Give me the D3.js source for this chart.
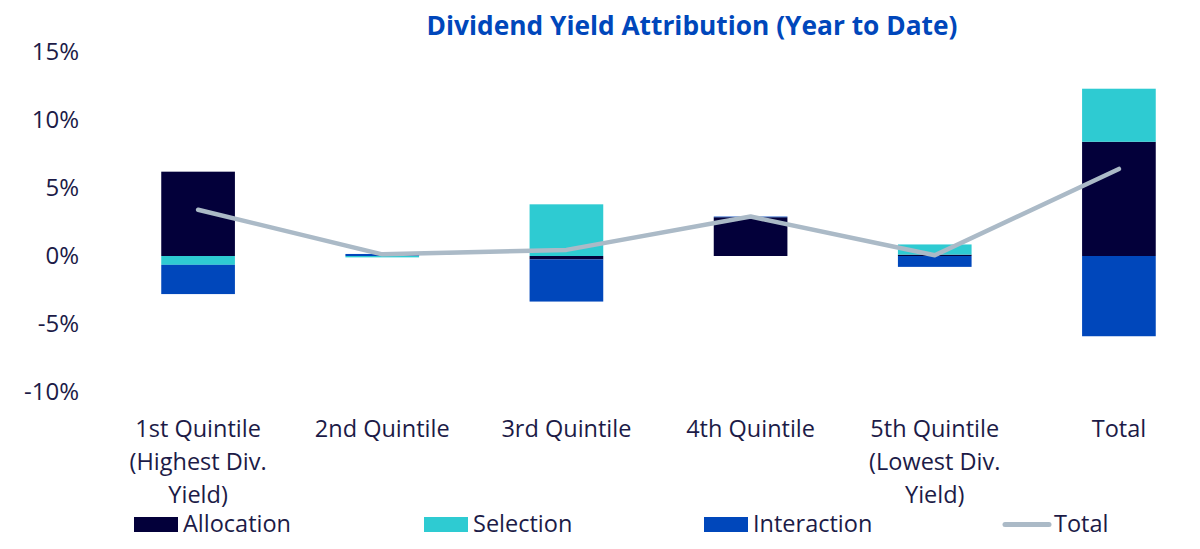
<!DOCTYPE html>
<html>
<head>
<meta charset="utf-8">
<script src="https://cdn.jsdelivr.net/npm/d3@7"></script>
<style>
  body { margin: 0; background: #fff; }
  text { font-family: "Open Sans", sans-serif; }
</style>
</head>
<body>
<script>
// values, in percent
var categories = [
    ["1st Quintile", "(Highest Div.", "Yield)"],
    ["2nd Quintile"],
    ["3rd Quintile"],
    ["4th Quintile"],
    ["5th Quintile", "(Lowest Div.", "Yield)"],
    ["Total"]
];
var allocation = [6.2, 0.0, -0.25, 2.85, 0.1, 8.4];
var selection = [-0.65, -0.1, 3.8, 0.0, 0.75, 3.9];
var interaction = [-2.15, 0.15, -3.1, 0.05, -0.8, -5.9];
var total = [3.4, 0.12, 0.45, 2.9, 0.05, 6.4];
var yTicks = [-10, -5, 0, 5, 10, 15];
var seriesNames = ["Allocation", "Selection", "Interaction"];
var colors = ["#03003a", "#2ecbd2", "#0047bb"];
var lineColor = "#abbac7";
var textColor = "#1c1b47";

var width = 1200, height = 549;

var svg = d3.select("body")
    .append("svg")
    .attr("width", width)
    .attr("height", height);

var rows = categories.map(function (c, i) {
    return { key: i, Allocation: allocation[i], Selection: selection[i], Interaction: interaction[i] };
});

var x = d3.scaleBand()
    .domain(d3.range(categories.length))
    .range([106, 1211])
    .paddingInner(0.6)
    .paddingOuter(0.3);

var y = d3.scaleLinear()
    .domain([-10, 15])
    .range([392, 52]);

// y labels, no axis line
svg.append("g")
    .attr("transform", "translate(79,0)")
    .call(d3.axisLeft(y).tickValues(yTicks).tickSize(0).tickPadding(0)
        .tickFormat(function (d) { return d + "%"; }))
    .call(function (g) {
        g.select(".domain").remove();
        g.selectAll("text")
            .attr("fill", textColor)
            .style("font-size", "24px")
            .style("font-family", "'Open Sans', sans-serif");
    });

var stacked = d3.stack()
    .keys(seriesNames)
    .offset(d3.stackOffsetDiverging)(rows);

svg.append("g")
    .selectAll("g")
    .data(stacked)
    .join("g")
    .attr("fill", function (d, i) { return colors[i]; })
    .selectAll("rect")
    .data(function (d) { return d; })
    .join("rect")
    .attr("x", function (d) { return x(d.data.key); })
    .attr("width", x.bandwidth())
    .attr("y", function (d) { return y(Math.max(d[0], d[1])); })
    .attr("height", function (d) { return Math.abs(y(d[0]) - y(d[1])); });

svg.append("path")
    .datum(total)
    .attr("fill", "none")
    .attr("stroke", lineColor)
    .attr("stroke-width", 4.5)
    .attr("stroke-linecap", "round")
    .attr("stroke-linejoin", "round")
    .attr("d", d3.line()
        .x(function (d, i) { return x(i) + x.bandwidth() / 2; })
        .y(function (d) { return y(d); }));

// category labels
var labels = svg.append("g")
    .selectAll("text")
    .data(categories)
    .join("text")
    .attr("text-anchor", "middle")
    .attr("fill", textColor)
    .style("font-size", "23.5px")
    .attr("transform", function (d, i) { return "translate(" + (x(i) + x.bandwidth() / 2) + ",437)"; });

labels.selectAll("tspan")
    .data(function (d) { return d; })
    .join("tspan")
    .attr("x", 0)
    .attr("y", function (d, j) { return j * 33; })
    .text(function (d) { return d; });

// title
svg.append("text")
    .attr("x", 692)
    .attr("y", 35)
    .attr("text-anchor", "middle")
    .attr("fill", "#0047bb")
    .style("font-size", "26.3px")
    .style("font-weight", "bold")
    .text("Dividend Yield Attribution (Year to Date)");

// legend
var legendX = [134, 424, 704, 1003];
var legend = svg.append("g")
    .selectAll("g")
    .data(seriesNames.concat(["Total"]))
    .join("g")
    .attr("transform", function (d, i) { return "translate(" + legendX[i] + ",524.5)"; });

legend.filter(function (d, i) { return i < 3; })
    .append("rect")
    .attr("x", 0)
    .attr("y", -7.5)
    .attr("width", 44)
    .attr("height", 15)
    .attr("fill", function (d, i) { return colors[i]; });

legend.filter(function (d, i) { return i === 3; })
    .append("line")
    .attr("x1", 2)
    .attr("x2", 46)
    .attr("stroke", lineColor)
    .attr("stroke-width", 5)
    .attr("stroke-linecap", "round");

legend.append("text")
    .attr("x", function (d, i) { return i === 3 ? 51 : 49; })
    .attr("y", 0)
    .attr("dy", "0.32em")
    .attr("fill", textColor)
    .style("font-size", "23.5px")
    .text(function (d) { return d; });
</script>
</body>
</html>
